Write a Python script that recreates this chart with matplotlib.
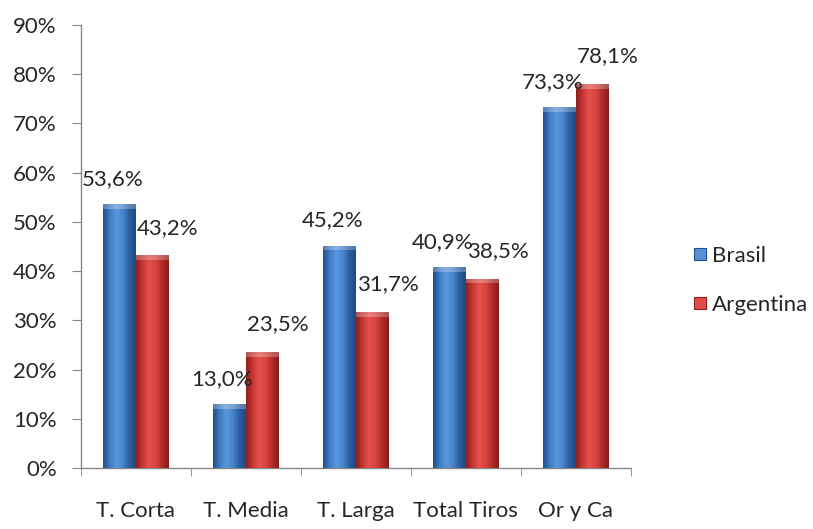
import matplotlib.pyplot as plt
import numpy as np
from matplotlib.colors import LinearSegmentedColormap
from matplotlib.patches import Rectangle
from matplotlib.legend_handler import HandlerPatch

categories = ['T. Corta', 'T. Media', 'T. Larga', 'Total Tiros', 'Or y Ca']
brasil = [53.6, 13.0, 45.2, 40.9, 73.3]
argentina = [43.2, 23.5, 31.7, 38.5, 78.1]
series_names = ['Brasil', 'Argentina']

plt.rcParams['font.family'] = ['Lato', 'DejaVu Sans']

blue_cmap = LinearSegmentedColormap.from_list(
    'b', ['#1f4f8c', '#3f7cc4', '#5b97dc', '#4a86cd', '#2c609f', '#1d4a83'])
red_cmap = LinearSegmentedColormap.from_list(
    'r', ['#8e1f1d', '#c83733', '#e3524d', '#d8443f', '#b02d2a', '#861c1a'])

fig = plt.figure(figsize=(8.13, 5.29), dpi=100)
ax = fig.add_axes([0.0996, 0.1153, 0.6764, 0.8374])

x = np.arange(len(categories))
w = 0.3
bars_b = ax.bar(x - w / 2, brasil, w, color='#3f7cc4', edgecolor='none', zorder=2)
bars_r = ax.bar(x + w / 2, argentina, w, color='#d0403c', edgecolor='none', zorder=2)

grad = np.linspace(0, 1, 64).reshape(1, -1)
for bars, cmap in ((bars_b, blue_cmap), (bars_r, red_cmap)):
    for b in bars:
        x0, y0 = b.get_x(), b.get_y()
        bw, bh = b.get_width(), b.get_height()
        im = ax.imshow(grad, cmap=cmap, aspect='auto',
                       extent=(x0, x0 + bw, y0, y0 + bh), zorder=3)
        im.set_clip_path(b)
        # light top bevel
        ax.add_patch(Rectangle((x0, y0 + bh - 1.0), bw, 1.0, color='white',
                               alpha=0.25, lw=0, zorder=4))

tc = '#262626'
fs = 16
for b, v in zip(bars_b, brasil):
    ax.annotate(f'{v:.1f}%'.replace('.', ','), (b.get_x() + b.get_width() / 2, v),
                xytext=(-5, 18), textcoords='offset points', ha='center',
                va='center', fontsize=fs, color=tc, zorder=5)
for b, v in zip(bars_r, argentina):
    ax.annotate(f'{v:.1f}%'.replace('.', ','), (b.get_x() + b.get_width() / 2, v),
                xytext=(11, 20), textcoords='offset points', ha='center',
                va='center', fontsize=fs, color=tc, zorder=5)

ax.set_xlim(-0.5, len(categories) - 0.5)
ax.set_ylim(0, 90)
ax.set_yticks(np.arange(0, 91, 10))
ax.set_yticklabels([f'{t}%' for t in range(0, 91, 10)])
ax.set_xticks(x)
ax.set_xticklabels(categories)
ax.set_xticks(np.arange(-0.5, len(categories)), minor=True)

for s in ['top', 'right']:
    ax.spines[s].set_visible(False)
for s in ['left', 'bottom']:
    ax.spines[s].set_color('#868686')
    ax.spines[s].set_linewidth(1)

ax.tick_params(axis='y', direction='out', length=6.5, color='#868686',
               labelsize=fs, labelcolor=tc, pad=11)
ax.tick_params(axis='x', which='major', length=0, labelsize=fs,
               labelcolor=tc, pad=24)
ax.tick_params(axis='x', which='minor', direction='out', length=6,
               color='#868686')


class GradHandler(HandlerPatch):
    def __init__(self, cmap):
        super().__init__()
        self.cmap = cmap

    def create_artists(self, legend, orig_handle, xdescent, ydescent,
                       width, height, fontsize, trans):
        s = 9
        r = Rectangle((xdescent + width - s, ydescent + (height - s) / 2), s, s,
                      facecolor=self.cmap(0.45), edgecolor=self.cmap(0.0),
                      lw=0.8, transform=trans)
        return [r]


hb = Rectangle((0, 0), 1, 1)
hr = Rectangle((0, 0), 1, 1)
leg = fig.legend([hb, hr], series_names, loc='center left',
                 bbox_to_anchor=(0.847, 0.47), frameon=False, fontsize=fs,
                 borderpad=0, borderaxespad=0,
                 handlelength=0.8, handletextpad=0.25, labelspacing=1.3,
                 handler_map={hb: GradHandler(blue_cmap), hr: GradHandler(red_cmap)})
for t in leg.get_texts():
    t.set_color(tc)

fig.savefig('out.png', dpi=100)
